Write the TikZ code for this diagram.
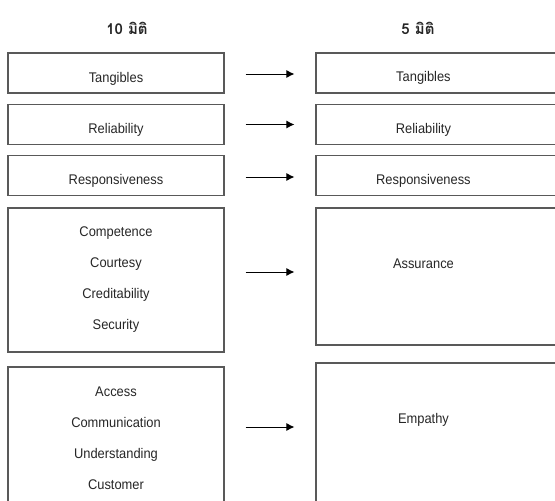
\documentclass[tikz,border=0pt]{standalone}
\usepackage{fontspec}
\setmainfont[FakeStretch=0.92]{Liberation Sans}
\newfontfamily\thaifont[Script=Thai]{Loma}
\usetikzlibrary{arrows.meta}

\tikzset{
    box/.style = {draw=black!65, line width=1.1pt, minimum width=216pt, minimum height=40pt,
                  align=center, text=black!85, font=\fontsize{14}{31}\selectfont},
    sbox/.style = {box, text height=18pt, text depth=0pt},
    rbox/.style = {box, minimum width=260pt},
    lbl/.style = {anchor=center, text=black!85, font=\fontsize{14}{17}\selectfont},
    head/.style = {text=black!85, font=\thaifont\bfseries\fontsize{15}{18}\selectfont},
    arr/.style = {-{Latex[length=8pt,width=8pt]}, line width=1pt, shorten <=21pt, shorten >=21pt}
}

\begin{document}
\begin{tikzpicture}[x=1pt, y=-1pt]
    \useasboundingbox (0, 0) rectangle (555, 501);
    \clip (0, 0) rectangle (555, 501);

    % headings
    \node [head] (h10) at (127, 28) {10 มิติ};
    \node [head] (h5) at (418, 28) {5 มิติ};

    % ten dimensions
    \node [sbox] (l1) at (116, 73) {Tangibles};
    \node [sbox] (l2) at (116, 124.5) {Reliability};
    \node [sbox] (l3) at (116, 175.5) {Responsiveness};
    \node [box, minimum height=144pt] (l4) at (116, 280) {Competence\\Courtesy\\Creditability\\Security};
    \node [box, minimum height=143pt] (l5) at (116, 438.5) {Access\\Communication\\Understanding\\Customer};

    % five dimensions
    \node [rbox, label={[lbl, name=t1, xshift=108pt, yshift=-5pt]west:Tangibles}] (r1) at (446, 73) {};
    \node [rbox, label={[lbl, name=t2, xshift=108pt, yshift=-5pt]west:Reliability}] (r2) at (446, 124.5) {};
    \node [rbox, label={[lbl, name=t3, xshift=108pt, yshift=-5pt]west:Responsiveness}] (r3) at (446, 175.5) {};
    \node [rbox, minimum height=137pt, label={[lbl, name=t4, xshift=108pt, yshift=-56pt]north west:Assurance}] (r4) at (446, 276.5) {};
    \node [rbox, minimum height=140pt, label={[lbl, name=t5, xshift=108pt, yshift=-57pt]north west:Empathy}] (r5) at (446, 433) {};

    % arrows
    \foreach \i/\dy in {1/-1, 2/0, 3/-1.5, 4/8, 5/11.5} {
        \coordinate (s\i) at ([yshift=\dy pt]l\i.east);
        \draw [arr] (s\i) -- (s\i -| r\i.west);
    }
\end{tikzpicture}
\end{document}
